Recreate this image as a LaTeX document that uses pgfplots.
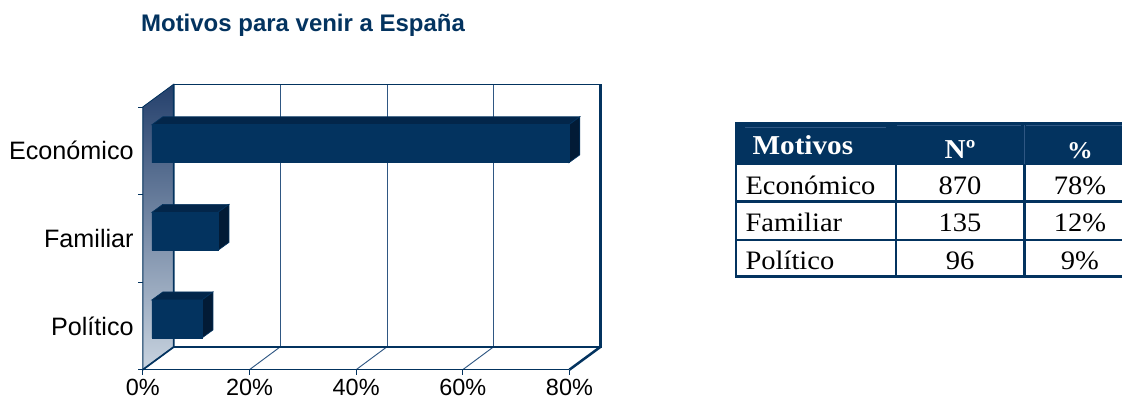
\documentclass[border=0pt]{standalone}
\usepackage{fontspec}
\setmainfont{Liberation Sans}
\newfontfamily\tabfont[FakeStretch=1.07]{Liberation Serif}
\usepackage{pgfplots}
\pgfplotsset{compat=1.18}
\definecolor{navy}{HTML}{03335F}
\definecolor{navytop}{HTML}{03264A}
\definecolor{navyside}{HTML}{021B36}
\definecolor{navyline}{HTML}{2F5783}
\definecolor{walltop}{HTML}{24406C}
\definecolor{wallbottom}{HTML}{C9D4E0}
% bar values
\newcommand{\tcell}[3]{\node[anchor=base,text=black,inner sep=0pt,font=\tabfont\fontsize{20}{22}\selectfont] at (#1,#2) {#3};}
\begin{document}
\begin{tikzpicture}[x=0.75pt,y=-0.75pt]
\path (0,0) rectangle (1123,400);
\node[anchor=base west,inner sep=0pt,text=navy,font=\bfseries\fontsize{18}{20}\selectfont] at (141,32) {Motivos para venir a España};
\begin{axis}[
    at={(107.25pt,-277.5pt)}, anchor=south west,
    scale only axis, width=320.25pt, height=197.25pt,
    xmin=0, xmax=80, ymin=0.5, ymax=3.5, y dir=reverse,
    clip=false,
    axis lines=none,
    ]
% left wall and back wall
\fill[top color=walltop, bottom color=wallbottom, draw=navy, line width=0.6pt]
    (axis cs:0,0.5) -- (axis cs:5.81,0.24) -- (axis cs:5.81,3.24) -- (axis cs:0,3.5) -- cycle;
\fill[white] (axis cs:5.81,0.24) rectangle (axis cs:85.81,3.24);
\pgfplotsinvokeforeach{25.81,45.81,65.81}{
  \draw[navyline, line width=0.7pt] (axis cs:#1,0.24) -- (axis cs:#1,3.24);
}
\pgfplotsinvokeforeach{20,40,60}{
  \draw[navyline, line width=0.7pt] (axis cs:#1,3.5) -- ([xshift=23.25pt,yshift=17.25pt]axis cs:#1,3.5);
}
\draw[navy, line width=0.9pt] (axis cs:5.81,0.24) -- (axis cs:85.81,0.24);
\draw[navy, line width=1.9pt] (axis cs:85.81,0.24) -- (axis cs:85.81,3.24) -- (axis cs:5.81,3.24);
\draw[navy, line width=1.3pt] (axis cs:5.81,0.24) -- (axis cs:5.81,3.24) -- (axis cs:0,3.5);
\draw[navy, line width=0.8pt] (axis cs:0,3.5) -- (axis cs:80,3.5);
\draw[navy, line width=1.9pt] (axis cs:80,3.5) -- (axis cs:85.81,3.24);
% ticks
\pgfplotsinvokeforeach{0,20,40,60,80}{
  \draw[navy, line width=0.6pt] (axis cs:#1,3.5) -- ([yshift=-4pt]axis cs:#1,3.5);
  \node[anchor=base,inner sep=0pt,text=black,font=\fontsize{17.6}{20}\selectfont] at ([yshift=-19.5pt]axis cs:#1,3.5) {#1\%};
}
\pgfplotsinvokeforeach{0.5,1.5,2.5,3.5}{
  \draw[navy, line width=0.6pt] (axis cs:0,#1) -- ([xshift=-4pt]axis cs:0,#1);
}
\node[anchor=east,inner sep=0pt,text=black,font=\fontsize{18.9}{20}\selectfont] at ([xshift=-6.75pt]axis cs:0,1) {Económico};
\node[anchor=east,inner sep=0pt,text=black,font=\fontsize{18.9}{20}\selectfont] at ([xshift=-6.75pt]axis cs:0,2) {Familiar};
\node[anchor=east,inner sep=0pt,text=black,font=\fontsize{18.9}{20}\selectfont] at ([xshift=-6.75pt]axis cs:0,3) {Político};
% bar tops and ends
\addplot[xshift=6.75pt,yshift=5.2pt,fill=navytop,draw=navy,line width=0.5pt] coordinates {(0,0.783) (78.2,0.783) (80.26,0.692) (2.06,0.692)} -- cycle;
\addplot[xshift=6.75pt,yshift=5.2pt,fill=navyside,draw=navy,line width=0.5pt] coordinates {(78.2,0.783) (78.2,1.217) (80.26,1.126) (80.26,0.692)} -- cycle;
\addplot[xshift=6.75pt,yshift=5.2pt,fill=navytop,draw=navy,line width=0.5pt] coordinates {(0,1.783) (12.4,1.783) (14.46,1.692) (2.06,1.692)} -- cycle;
\addplot[xshift=6.75pt,yshift=5.2pt,fill=navyside,draw=navy,line width=0.5pt] coordinates {(12.4,1.783) (12.4,2.217) (14.46,2.126) (14.46,1.692)} -- cycle;
\addplot[xshift=6.75pt,yshift=5.2pt,fill=navytop,draw=navy,line width=0.5pt] coordinates {(0,2.783) (9.4,2.783) (11.46,2.692) (2.06,2.692)} -- cycle;
\addplot[xshift=6.75pt,yshift=5.2pt,fill=navyside,draw=navy,line width=0.5pt] coordinates {(9.4,2.783) (9.4,3.217) (11.46,3.126) (11.46,2.692)} -- cycle;
% bar fronts
\addplot[xbar,bar width=28.5pt,bar shift=0pt,xshift=6.75pt,yshift=5.2pt,fill=navy,draw=navy,line width=0.5pt] coordinates {(78.2,1) (12.4,2) (9.4,3)};
\end{axis}
% table
\fill[navy] (737,122.5) rectangle (1123,165);
\draw[navyline,line width=0.5pt] (746,127) -- (887,127) (898,125) -- (1022,125) (1027,125) -- (1123,125);
\draw[navyline,line width=0.5pt] (1025.5,125) -- (1025.5,164);
\draw[navy,line width=1.6pt] (737,122.5) -- (737,276.7) -- (1123,276.7);
\foreach \y in {201.7,240} \draw[navy,line width=1.6pt] (737,\y) -- (1123,\y);
\foreach \x in {896.5,1025.5} \draw[navy,line width=1.6pt] (\x,165) -- (\x,276.7);
\node[anchor=base west,inner sep=0pt,text=white,font=\tabfont\bfseries\fontsize{20.5}{22}\selectfont] at (753,155) {Motivos};
\node[anchor=base,inner sep=0pt,text=white,font=\tabfont\bfseries\fontsize{20.5}{22}\selectfont] at (961,159) {Nº};
\node[anchor=base,inner sep=0pt,text=white,font=\tabfont\bfseries\fontsize{18}{20}\selectfont] at (1081,159) {\%};
\node[anchor=base west,inner sep=0pt,font=\tabfont\fontsize{20}{22}\selectfont] at (746,194.5) {Económico};
\node[anchor=base west,inner sep=0pt,font=\tabfont\fontsize{20}{22}\selectfont] at (746,232) {Familiar};
\node[anchor=base west,inner sep=0pt,font=\tabfont\fontsize{20}{22}\selectfont] at (746,269.5) {Político};
\tcell{961}{194.5}{870}
\tcell{961}{232}{135}
\tcell{961}{269.5}{96}
\tcell{1081}{194.5}{78\%}
\tcell{1081}{232}{12\%}
\tcell{1081}{269.5}{9\%}
\end{tikzpicture}
\end{document}
